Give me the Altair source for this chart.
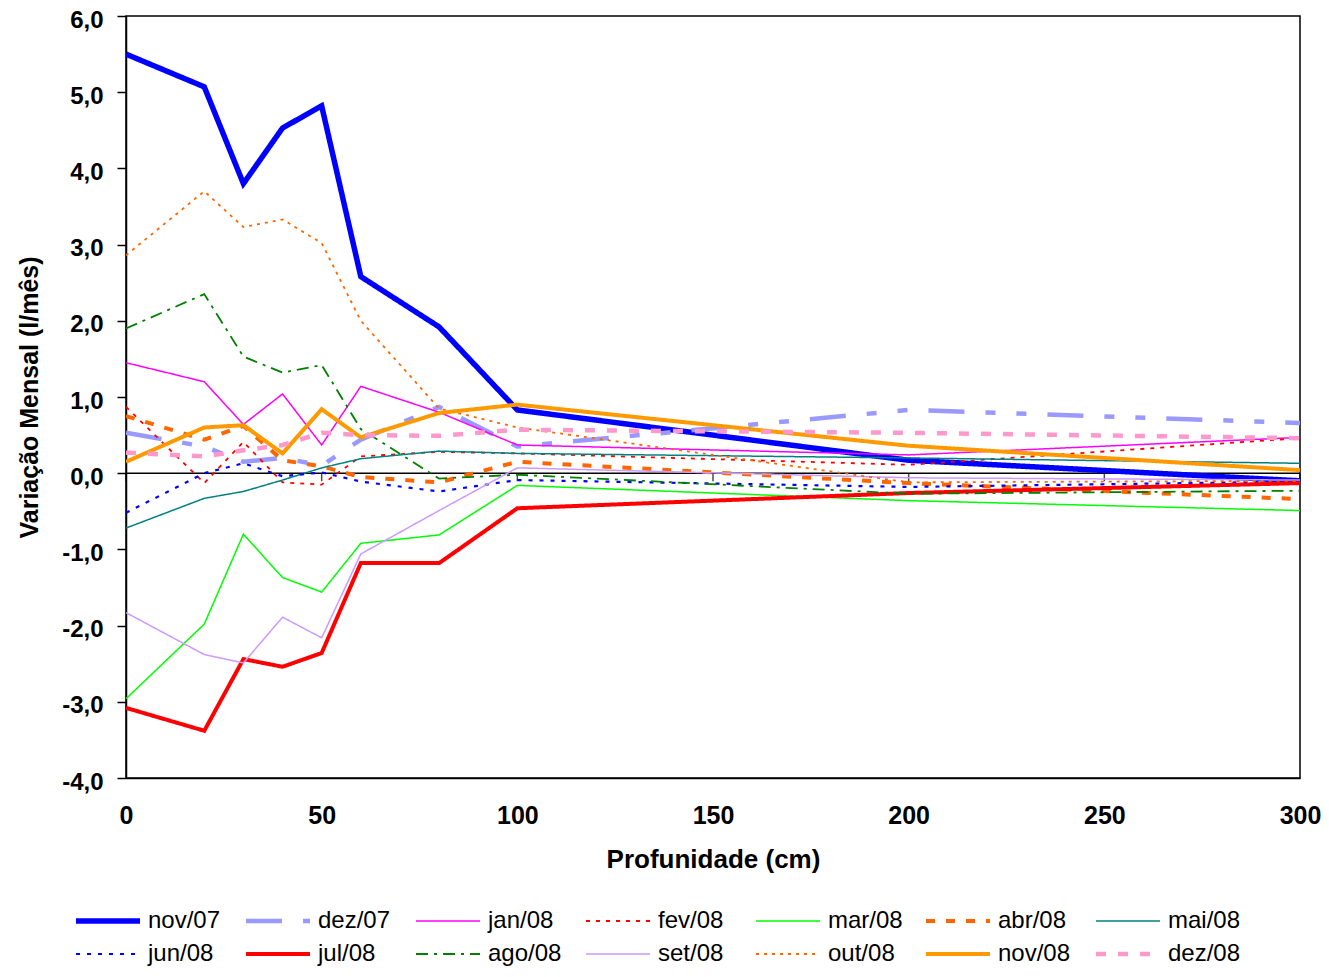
import altair as alt
import pandas as pd

# Depths (cm)
depth = [0, 20, 30, 40, 50, 60, 80, 100, 200, 300]

series_names = ["nov/07", "dez/07", "jan/08", "fev/08", "mar/08", "abr/08", "mai/08",
                "jun/08", "jul/08", "ago/08", "set/08", "out/08", "nov/08", "dez/08"]

nov07 = [5.50, 5.07, 3.80, 4.53, 4.82, 2.58, 1.92, 0.83, 0.17, -0.10]
dez07 = [0.53, 0.35, 0.15, 0.20, 0.10, 0.44, 0.87, 0.35, 0.83, 0.66]
jan08 = [1.45, 1.20, 0.64, 1.04, 0.37, 1.14, 0.80, 0.37, 0.24, 0.47]
fev08 = [0.87, -0.13, 0.41, -0.12, -0.15, 0.22, 0.28, 0.26, 0.11, 0.46]
mar08 = [-2.96, -1.98, -0.80, -1.37, -1.56, -0.92, -0.81, -0.16, -0.36, -0.49]
abr08 = [0.75, 0.44, 0.62, 0.17, 0.09, -0.05, -0.12, 0.15, -0.13, -0.34]
mai08 = [-0.72, -0.33, -0.24, -0.09, 0.07, 0.19, 0.29, 0.26, 0.20, 0.13]
jun08 = [-0.52, 0.00, 0.13, -0.04, 0.01, -0.11, -0.24, -0.09, -0.18, -0.11]
jul08 = [-3.08, -3.38, -2.44, -2.54, -2.36, -1.18, -1.18, -0.46, -0.26, -0.13]
ago08 = [1.90, 2.35, 1.53, 1.32, 1.42, 0.58, -0.07, -0.02, -0.27, -0.23]
set08 = [-1.83, -2.38, -2.49, -1.89, -2.16, -1.06, -0.49, 0.07, -0.06, -0.09]
out08 = [2.86, 3.70, 3.23, 3.33, 3.02, 2.00, 0.85, 0.60, -0.12, -0.10]
nov08 = [0.15, 0.60, 0.63, 0.26, 0.84, 0.47, 0.79, 0.90, 0.36, 0.04]
dez08 = [0.27, 0.22, 0.30, 0.37, 0.53, 0.50, 0.49, 0.57, 0.53, 0.46]

values = [nov07, dez07, jan08, fev08, mar08, abr08, mai08,
          jun08, jul08, ago08, set08, out08, nov08, dez08]

x_ticks = [0, 50, 100, 150, 200, 250, 300]
y_ticks = [-4, -3, -2, -1, 0, 1, 2, 3, 4, 5, 6]

colors = ["#0000FF", "#9999FF", "#FF00FF", "#FF0000", "#00FF00", "#FF6600", "#008080",
          "#0000FF", "#FF0000", "#008000", "#CC99FF", "#FF6600", "#FF9900", "#FF99CC"]
widths = [5.5, 4.5, 1.5, 1.8, 1.5, 4, 1.5, 2.2, 4, 1.8, 1.5, 1.8, 4, 4.5]
dashes = [[1, 0], [36, 21, 10, 21, 10, 21], [1, 0], [4, 6], [1, 0], [9, 11], [1, 0],
          [4, 7], [1, 0], [12, 6, 3, 6], [1, 0], [3, 5], [1, 0], [10, 12]]

rows = []
for i, (name, vals) in enumerate(zip(series_names, values)):
    for d, v in zip(depth, vals):
        rows.append({"serie": name, "ordem": i, "prof": d, "val": v})
df = pd.DataFrame(rows)

FONT = "Liberation Sans"

leg = alt.Legend(
    title=None, orient="none", legendX=-30, legendY=893, direction="horizontal",
    columns=7, gridAlign="all", columnPadding=14, rowPadding=9,
    symbolType="M-4,0L4,0", symbolSize=256, labelOffset=28,
    labelFont=FONT, labelFontSize=24, labelColor="#000000", padding=0,
    labelLimit=200,
)

xs = alt.Scale(domain=[0, 300], nice=False, zero=False)
ys = alt.Scale(domain=[-4, 6], nice=False, zero=False)

y_label_expr = "replace(replace(format(datum.value, '.1f'), '.', ','), '\u2212', '-')"

lines = alt.Chart(df).mark_line(clip=True).encode(
    x=alt.X("prof:Q", scale=xs, title="Profunidade (cm)",
            axis=alt.Axis(values=x_ticks, ticks=False, tickSize=0, labelPadding=25,
                          grid=False, domainColor="#000000", domainWidth=1.5,
                          labelFont=FONT, labelFontSize=25, labelFontWeight="bold",
                          labelColor="#000000", titleFont=FONT, titleFontSize=26,
                          titleFontWeight="bold", titleColor="#000000", titlePadding=18,
                          labelFlush=False)),
    y=alt.Y("val:Q", scale=ys, title="Variação Mensal (l/mês)",
            axis=alt.Axis(values=y_ticks, tickSize=9, tickColor="#000000", tickWidth=1.5,
                          labelPadding=14, labelOffset=4, grid=False,
                          domainColor="#000000", domainWidth=1.5,
                          labelExpr=y_label_expr,
                          labelFont=FONT, labelFontSize=24, labelFontWeight="bold",
                          labelColor="#000000", titleFont=FONT, titleFontSize=25,
                          titleFontWeight="bold", titleColor="#000000", titlePadding=19,
                          labelFlush=False)),
    color=alt.Color("serie:N", scale=alt.Scale(domain=series_names, range=colors),
                    sort=series_names, legend=leg),
    strokeDash=alt.StrokeDash("serie:N", scale=alt.Scale(type="ordinal", domain=series_names, range=dashes),
                              sort=series_names, legend=leg),
    strokeWidth=alt.StrokeWidth("serie:N", scale=alt.Scale(type="ordinal", domain=series_names, range=widths),
                                sort=series_names, legend=leg),
    order=alt.Order("ordem:Q"),
)

zero_rule = alt.Chart(pd.DataFrame({"z": [0]})).mark_rule(color="#000000", strokeWidth=1.5).encode(
    y=alt.Y("z:Q", scale=ys)
)

tick_df = pd.DataFrame({"t": x_ticks, "z": [0] * len(x_ticks)})
zero_ticks = alt.Chart(tick_df).mark_tick(orient="vertical", color="#000000", size=8,
                                          thickness=1.5, yOffset=4).encode(
    x=alt.X("t:Q", scale=xs),
    y=alt.Y("z:Q", scale=ys),
)

chart = alt.layer(zero_rule, zero_ticks, lines).properties(
    width=1174, height=762,
    autosize=alt.AutoSizeParams(type="none"),
    padding={"left": 118, "top": 8, "right": 21, "bottom": 191},
).configure_view(stroke="#000000", strokeWidth=1.5)

chart.save("out.html", embed_options={"renderer": "svg", "actions": False})
